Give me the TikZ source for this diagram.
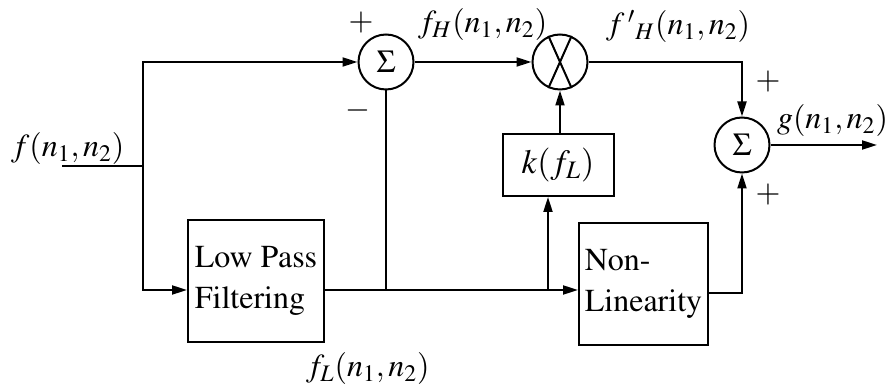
\documentclass[tikz,border=0pt]{standalone}
\usepackage[T1]{fontenc}
\usepackage{mathptmx}
\usetikzlibrary{arrows.meta}
\begin{document}
\begin{tikzpicture}[x=0.5pt,y=-0.5pt,
  line width=1pt,
  blk/.style={draw, rectangle, inner sep=0pt, align=left, font=\fontsize{16}{20.5}\selectfont},
  junc/.style={draw, circle, minimum size=27.5pt, inner sep=0pt, font=\fontsize{16}{18}\selectfont},
  arr/.style={-{Triangle[length=7.5pt,width=4.5pt]}},
  lbl/.style={inner sep=0pt, font=\fontsize{16}{20}\selectfont},
  sgn/.style={inner sep=0pt, font=\fontsize{16}{18}\selectfont}]
\useasboundingbox (0,0) rectangle (890,389);
% blocks
\node[junc] (s1) at (386,62) {$\Sigma$};
\node[junc] (mx) at (560,62) {};
\draw (mx.66) -- (mx.246);
\draw (mx.114) -- (mx.294);
\node[junc] (s2) at (742,145) {$\Sigma$};
\node[blk, minimum width=68pt, minimum height=61pt] (lpf) at (256,281) {Low Pass\\Filtering};
\node[blk, minimum width=64.5pt, minimum height=61pt] (nl) at (643.5,284) {Non-\\Linearity};
\node[draw, minimum width=55.5pt, minimum height=31pt, inner sep=0pt, font=\fontsize{17}{20}\selectfont] (k) at (558,165) {$k(f_L)$};
% coordinates
\coordinate (in) at (62,166);
\coordinate (j0) at (143,166);
\coordinate (sig) at (0,290);
\coordinate (jk) at (548,290);
\coordinate (nlo) at (0,293);
\coordinate (out) at (877,145);
% connectors
\draw (in) -- (j0);
\draw[arr] (j0) |- (s1.west);
\draw[arr] (j0) |- (lpf.west |- sig);
\draw[arr] (lpf.east |- sig) -- (nl.west |- sig);
\draw (s1.south) -- (s1.south |- sig);
\draw[arr] (jk) -- (jk |- k.south);
\draw[arr] (k.north -| mx.south) -- (mx.south);
\draw[arr] (s1.east) -- (mx.west);
\draw[arr] (mx.east) -| (s2.north);
\draw[arr] (nl.east |- nlo) -| (s2.south);
\draw[arr] (s2.east) -- (out);
% labels
\node[lbl, anchor=base west] (lf) at (10,157) {$f(n_1,n_2)$};
\node[lbl, anchor=base west] (lfh) at (417,33) {$f_H(n_1,n_2)$};
\node[lbl, anchor=base west] (lfh2) at (605,35) {$f\,{}'{}_{H}(n_1,n_2)$};
\node[lbl, anchor=base east] (lg) at (889,129) {$g(n_1,n_2)$};
\node[lbl, anchor=base west] (lfl) at (305,377) {$f_L(n_1,n_2)$};
\node[sgn] (p1) at (361,23) {$+$};
\node[sgn] (m1) at (358,111) {$-$};
\node[sgn] (p2) at (768,82) {$+$};
\node[sgn] (p3) at (768,195) {$+$};
\end{tikzpicture}
\end{document}
